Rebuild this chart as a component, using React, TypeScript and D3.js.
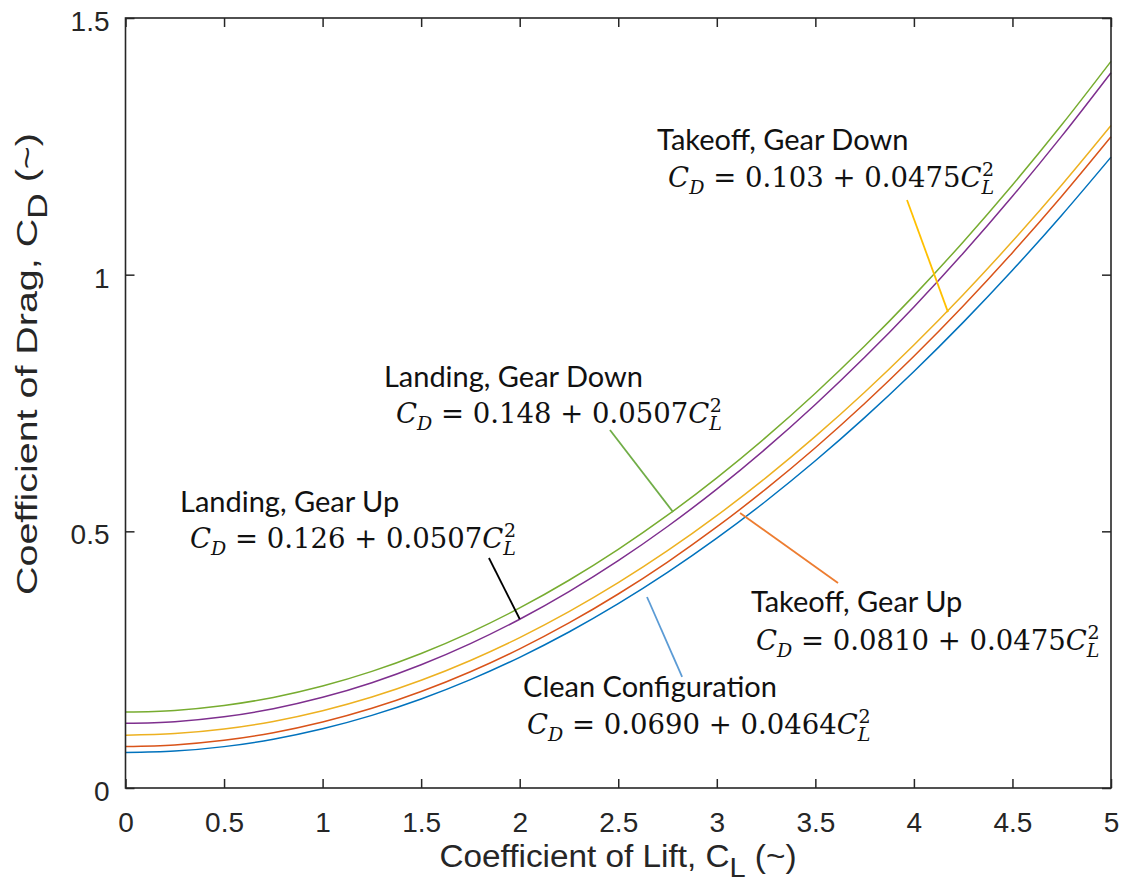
import { useEffect, useRef } from 'react';
import * as d3 from 'd3';

// lift coefficient samples and drag coefficient per configuration
const CL = [0, 0.25, 0.5, 0.75, 1, 1.25, 1.5, 1.75, 2, 2.25, 2.5, 2.75, 3, 3.25, 3.5, 3.75, 4, 4.25, 4.5, 4.75, 5];
const CD_CLEAN = [0.069, 0.0719, 0.0806, 0.0951, 0.1154, 0.1415, 0.1734, 0.2111, 0.2546, 0.3039, 0.359, 0.4199, 0.4866, 0.5591, 0.6374, 0.7215, 0.8114, 0.9071, 1.0086, 1.1159, 1.229];
const CD_TAKEOFF_UP = [0.081, 0.084, 0.0929, 0.1077, 0.1285, 0.1552, 0.1879, 0.2265, 0.271, 0.3215, 0.3779, 0.4402, 0.5085, 0.5827, 0.6629, 0.749, 0.841, 0.939, 1.0429, 1.1527, 1.2685];
const CD_TAKEOFF_DOWN = [0.103, 0.106, 0.1149, 0.1297, 0.1505, 0.1772, 0.2099, 0.2485, 0.293, 0.3435, 0.3999, 0.4622, 0.5305, 0.6047, 0.6849, 0.771, 0.863, 0.961, 1.0649, 1.1747, 1.2905];
const CD_LANDING_UP = [0.126, 0.1292, 0.1387, 0.1545, 0.1767, 0.2052, 0.2401, 0.2813, 0.3288, 0.3827, 0.4429, 0.5094, 0.5823, 0.6615, 0.7471, 0.839, 0.9372, 1.0418, 1.1527, 1.2699, 1.3935];
const CD_LANDING_DOWN = [0.148, 0.1512, 0.1607, 0.1765, 0.1987, 0.2272, 0.2621, 0.3033, 0.3508, 0.4047, 0.4649, 0.5314, 0.6043, 0.6835, 0.7691, 0.861, 0.9592, 1.0638, 1.1747, 1.2919, 1.4155];

const SERIES = [CD_CLEAN, CD_TAKEOFF_UP, CD_TAKEOFF_DOWN, CD_LANDING_UP, CD_LANDING_DOWN];
const SERIES_COLORS = ['#0072BD', '#D95319', '#EDB120', '#7E2F8E', '#77AC30'];

const X_TICKS = [0, 0.5, 1, 1.5, 2, 2.5, 3, 3.5, 4, 4.5, 5];
const Y_TICKS = [0, 0.5, 1, 1.5];

// callouts: name, constant, slope, leader colour, label anchor and leader end (data units)
const NOTE_NAMES = ['Takeoff, Gear Down', 'Landing, Gear Down', 'Landing, Gear Up', 'Takeoff, Gear Up', 'Clean Configuration'];
const NOTE_CONST = ['0.103', '0.148', '0.126', '0.0810', '0.0690'];
const NOTE_SLOPE = ['0.0475', '0.0507', '0.0507', '0.0475', '0.0464'];
const NOTE_COLORS = ['#FFC000', '#70AD47', '#000000', '#ED7D31', '#5B9BD5'];
const NOTE_LABEL = [[2.697, 1.243], [1.311, 0.7812], [0.2765, 0.5377], [3.173, 0.3429], [2.017, 0.1773]];
const NOTE_EQ = [[2.753, 1.1705], [1.372, 0.7111], [0.327, 0.4676], [3.199, 0.2688], [2.037, 0.1052]];
const NOTE_LEADER = [
  [[3.965, 1.1455], [4.173, 0.927]],
  [[2.458, 0.6975], [2.778, 0.5377]],
  [[1.844, 0.4481], [2.0, 0.3292]],
  [[3.118, 0.5357], [3.615, 0.3994]],
  [[2.646, 0.3721], [2.824, 0.2163]],
];

const W = 1124;
const H = 892;
const margin = { top: 18, right: 13, bottom: 104, left: 125.5 };
const AXIS = '#262626';

const DragPolar = () => {
  const svgRef = useRef<SVGSVGElement | null>(null);

  useEffect(() => {
    if (!svgRef.current) return;
    const svg = d3.select(svgRef.current);
    svg.selectAll('*').remove();
    svg.attr('width', W).attr('height', H);

    const innerW = W - margin.left - margin.right;
    const innerH = H - margin.top - margin.bottom;
    const g = svg.append('g').attr('transform', `translate(${margin.left},${margin.top})`);

    const x = d3.scaleLinear().domain([0, 5]).range([0, innerW]);
    const y = d3.scaleLinear().domain([0, 1.5]).range([innerH, 0]);

    // curves
    const line = d3.line<number>()
      .x((_, i) => x(CL[i]))
      .y(d => y(d))
      .curve(d3.curveCatmullRom);

    SERIES.forEach((s, k) => {
      g.append('path')
        .attr('d', line(s))
        .attr('fill', 'none')
        .attr('stroke', SERIES_COLORS[k])
        .attr('stroke-width', 1.5);
    });

    // axes, MATLAB style: ticks inside on all four sides
    const styleAxis = (sel: any) => {
      sel.select('.domain').remove();
      sel.selectAll('.tick line').attr('stroke', AXIS).attr('stroke-width', 1.5);
      sel.selectAll('text')
        .attr('fill', AXIS)
        .attr('font-family', 'Liberation Sans, Arial, sans-serif')
        .attr('font-size', 28);
    };

    g.append('g').attr('transform', `translate(0,${innerH})`)
      .call(d3.axisBottom(x).tickValues(X_TICKS).tickSize(-9).tickPadding(24).tickFormat(d3.format('~g')))
      .call(styleAxis);
    g.append('g')
      .call(d3.axisTop(x).tickValues(X_TICKS).tickSize(-9).tickFormat(() => ''))
      .call(styleAxis);
    const yAxis = g.append('g')
      .call(d3.axisLeft(y).tickValues(Y_TICKS).tickSize(-9).tickPadding(16).tickFormat(d3.format('~g')))
      .call(styleAxis);
    yAxis.selectAll('text').attr('dy', '0.45em');
    g.append('g').attr('transform', `translate(${innerW},0)`)
      .call(d3.axisRight(y).tickValues(Y_TICKS).tickSize(-9).tickFormat(() => ''))
      .call(styleAxis);

    g.append('rect')
      .attr('width', innerW).attr('height', innerH)
      .attr('fill', 'none').attr('stroke', AXIS).attr('stroke-width', 1.6);

    // axis titles
    const xt = svg.append('text')
      .attr('x', 618).attr('y', 867)
      .attr('text-anchor', 'middle')
      .attr('fill', AXIS)
      .attr('font-family', 'Liberation Sans, Arial, sans-serif')
      .attr('font-size', 31)
      .attr('textLength', 357)
      .attr('lengthAdjust', 'spacingAndGlyphs');
    xt.append('tspan').text('Coefficient of Lift, C');
    xt.append('tspan').attr('dy', 10).attr('font-size', 27).text('L');
    xt.append('tspan').attr('dy', -10).text(' (~)');

    const yt = svg.append('text')
      .attr('transform', 'translate(37,364) rotate(-90)')
      .attr('text-anchor', 'middle')
      .attr('fill', AXIS)
      .attr('font-family', 'Liberation Sans, Arial, sans-serif')
      .attr('font-size', 30)
      .attr('textLength', 462)
      .attr('lengthAdjust', 'spacingAndGlyphs');
    yt.append('tspan').text('Coefficient of Drag, C');
    yt.append('tspan').attr('dy', 10).attr('font-size', 27).text('D');
    yt.append('tspan').attr('dy', -10).text(' (~)');

    // callouts
    NOTE_NAMES.forEach((name, k) => {
      const [[x1, y1], [x2, y2]] = NOTE_LEADER[k];
      g.append('line')
        .attr('x1', x(x1)).attr('y1', y(y1))
        .attr('x2', x(x2)).attr('y2', y(y2))
        .attr('stroke', NOTE_COLORS[k]).attr('stroke-width', 1.8);

      g.append('text')
        .attr('x', x(NOTE_LABEL[k][0])).attr('y', y(NOTE_LABEL[k][1]))
        .attr('fill', '#111')
        .attr('font-family', 'Lato, Carlito, sans-serif')
        .attr('font-size', 29)
        .text(name);

      const eq = g.append('text')
        .attr('x', x(NOTE_EQ[k][0])).attr('y', y(NOTE_EQ[k][1]))
        .attr('fill', '#111')
        .attr('font-family', 'DejaVu Serif, serif')
        .attr('font-size', 27.5);
      eq.append('tspan').attr('font-style', 'italic').text('C');
      eq.append('tspan').attr('font-style', 'italic').attr('font-size', 19).attr('dy', 7).text('D');
      eq.append('tspan').attr('dy', -7).text(` = ${NOTE_CONST[k]} + ${NOTE_SLOPE[k]}`);
      eq.append('tspan').attr('font-style', 'italic').text('C');
      eq.append('tspan').attr('font-style', 'italic').attr('font-size', 19).attr('dy', 7).text('L');
      eq.append('tspan').attr('font-size', 19).attr('dx', -12).attr('dy', -18).text('2');
    });
  }, []);

  return <svg ref={svgRef} style={{ position: 'absolute', left: 0, top: 0, display: 'block' }} />;
};

export default function App() {
  return <DragPolar />;
}
